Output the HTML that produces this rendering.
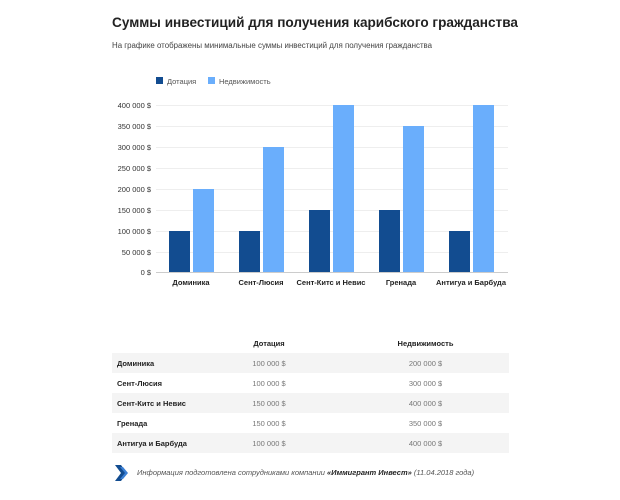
<!DOCTYPE html>
<html><head><meta charset="utf-8"><style>
body{margin:0;width:620px;height:500px;background:#fff;font-family:"Liberation Sans",sans-serif;position:relative;overflow:hidden}
.a{position:absolute;white-space:nowrap}
table{position:absolute;left:112px;top:333px;width:397px;border-collapse:collapse;font-size:7.5px;table-layout:fixed}
td{height:20px;padding:0}
tr.g td{background:#f4f4f4}
td.n{font-weight:bold;padding-left:5px;color:#222}
td.v{text-align:center;color:#777}
td.w{padding-left:16px}
</style></head><body>
<div class="a" style="left:112px;top:15px;font-size:13.6px;font-weight:bold;color:#222">Суммы инвестиций для получения карибского гражданства</div>
<div class="a" style="left:112px;top:41px;font-size:7.9px;color:#444">На графике отображены минимальные суммы инвестиций для получения гражданства</div>
<svg class="a" style="left:0;top:0" width="620" height="320" font-family="Liberation Sans, sans-serif">
<rect x="156" y="77" width="7" height="7" fill="#124c90"/><text x="167" y="84" font-size="7.5" fill="#555">Дотация</text>
<rect x="208" y="77" width="7" height="7" fill="#6aaefc"/><text x="219" y="84" font-size="7.5" fill="#555">Недвижимость</text>
<g stroke="#eeeeee" stroke-width="1">
<line x1="156" x2="508" y1="105.5" y2="105.5"/><line x1="156" x2="508" y1="126.5" y2="126.5"/><line x1="156" x2="508" y1="147.5" y2="147.5"/><line x1="156" x2="508" y1="168.5" y2="168.5"/><line x1="156" x2="508" y1="189.5" y2="189.5"/><line x1="156" x2="508" y1="210.5" y2="210.5"/><line x1="156" x2="508" y1="231.5" y2="231.5"/><line x1="156" x2="508" y1="252.5" y2="252.5"/></g>
<line x1="156" x2="508" y1="272.5" y2="272.5" stroke="#ccc"/>
<g font-size="7.5" fill="#333" text-anchor="end">
<text x="151" y="108">400 000 $</text><text x="151" y="129">350 000 $</text><text x="151" y="150">300 000 $</text><text x="151" y="171">250 000 $</text><text x="151" y="192">200 000 $</text><text x="151" y="213">150 000 $</text><text x="151" y="234">100 000 $</text><text x="151" y="255">50 000 $</text><text x="151" y="275">0 $</text></g>
<g fill="#124c90">
<rect x="169" y="231" width="21" height="41"/><rect x="239" y="231" width="21" height="41"/><rect x="309" y="210" width="21" height="62"/><rect x="379" y="210" width="21" height="62"/><rect x="449" y="231" width="21" height="41"/></g>
<g fill="#6aaefc">
<rect x="193" y="189" width="21" height="83"/><rect x="263" y="147" width="21" height="125"/><rect x="333" y="105" width="21" height="167"/><rect x="403" y="126" width="21" height="146"/><rect x="473" y="105" width="21" height="167"/></g>
<g font-size="7.5" font-weight="bold" fill="#222" text-anchor="middle">
<text x="191" y="285">Доминика</text><text x="261" y="285">Сент-Люсия</text><text x="331" y="285">Сент-Китс и Невис</text><text x="401" y="285">Гренада</text><text x="471" y="285">Антигуа и Барбуда</text></g>
</svg>
<table>
<colgroup><col style="width:100px"><col style="width:114px"><col style="width:183px"></colgroup>
<tr><td></td><td class="v" style="font-weight:bold;color:#222">Дотация</td><td class="v w" style="font-weight:bold;color:#222">Недвижимость</td></tr>
<tr class="g"><td class="n">Доминика</td><td class="v">100 000 $</td><td class="v w">200 000 $</td></tr>
<tr><td class="n">Сент-Люсия</td><td class="v">100 000 $</td><td class="v w">300 000 $</td></tr>
<tr class="g"><td class="n">Сент-Китс и Невис</td><td class="v">150 000 $</td><td class="v w">400 000 $</td></tr>
<tr><td class="n">Гренада</td><td class="v">150 000 $</td><td class="v w">350 000 $</td></tr>
<tr class="g"><td class="n">Антигуа и Барбуда</td><td class="v">100 000 $</td><td class="v w">400 000 $</td></tr>
</table>
<svg class="a" style="left:114px;top:464px" width="16" height="18"><path d="M1 1 L7 1 L13 9 L7 17 L1 17 L7 9Z" fill="#124c90"/><path d="M6 3 L9 3 L14 9 L9 15 L6 15 L11 9Z" fill="#3b7fd4"/></svg>
<div class="a" style="left:137px;top:468px;font-size:7.5px;font-style:italic;color:#555">Информация подготовлена сотрудниками компании <b style="color:#222">«Иммигрант Инвест»</b> (11.04.2018 года)</div>
</body></html>
